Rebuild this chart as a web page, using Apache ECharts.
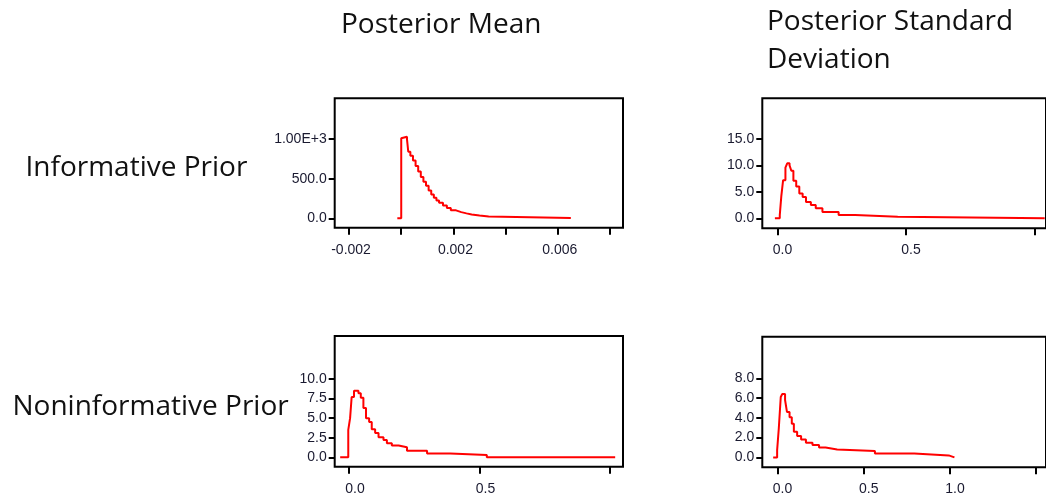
<!DOCTYPE html>
<html>
<head>
<meta charset="utf-8">
<script src="https://cdn.jsdelivr.net/npm/echarts@6/dist/echarts.min.js"></script>
<style>
  html, body { margin: 0; padding: 0; background: #fff; }
  #chart { width: 1046px; height: 498px; }
</style>
</head>
<body>
<div id="chart"></div>
<script>
// Posterior density traces (step outlines): x = left edge, y = density
const meanInfX = [-0.00015, 0.0000, 0.00005, 0.00022, 0.00027, 0.00035, 0.00045, 0.00055, 0.00065, 0.00075, 0.00085, 0.00095, 0.00105, 0.00115, 0.00125, 0.00135, 0.00145, 0.0016, 0.00175, 0.0019, 0.0021, 0.0023, 0.0025, 0.0027, 0.003, 0.00335, 0.0065];
const meanInfY = [0, 1010, 1030, 1000, 840, 790, 730, 660, 590, 520, 460, 410, 350, 300, 260, 225, 195, 160, 130, 100, 78, 62, 48, 35, 22, 5, 5];

const sdInfX = [-0.01, 0.009, 0.015, 0.022, 0.031, 0.038, 0.047, 0.054, 0.062, 0.073, 0.085, 0.098, 0.111, 0.13, 0.149, 0.175, 0.238, 0.302, 0.468, 1.04];
const sdInfY = [0, 0.6, 4.2, 7.2, 9.6, 10.4, 10.0, 9.0, 7.1, 6.0, 4.7, 4.0, 3.1, 2.5, 1.9, 1.2, 0.6, 0.3, 0.0, 0.0];

const meanNonX = [-0.034, -0.003, 0.004, 0.01, 0.019, 0.036, 0.045, 0.055, 0.065, 0.077, 0.087, 0.1, 0.113, 0.132, 0.145, 0.164, 0.19, 0.222, 0.299, 0.388, 0.528, 1.02];
const meanNonY = [0, 3.5, 5.0, 7.7, 8.5, 8.2, 7.6, 6.3, 5.0, 4.5, 3.6, 3.1, 2.55, 2.2, 1.8, 1.5, 1.28, 0.85, 0.5, 0.3, 0.0, 0.0];

const sdNonX = [-0.025, -0.002, 0.0075, 0.019, 0.028, 0.044, 0.055, 0.07, 0.083, 0.095, 0.114, 0.137, 0.165, 0.203, 0.241, 0.279, 0.346, 0.565, 0.793, 0.993, 1.026];
const sdNonY = [0, 0.74, 2.9, 6.1, 6.4, 5.8, 4.6, 4.05, 3.4, 2.6, 2.16, 1.82, 1.48, 1.25, 1.0, 0.81, 0.64, 0.4, 0.2, 0.0, 0.0];

// Axis ticks and the subset of ticks that carry labels
const meanInfTicksX = [-0.002, 0, 0.002, 0.004, 0.006, 0.008];
const meanInfLabelsX = [-0.002, 0.002, 0.006];
const meanInfTicksY = [0, 500, 1000];
const sdInfTicksX = [0, 0.5, 1.0];
const sdInfLabelsX = [0, 0.5];
const sdInfTicksY = [0, 5, 10, 15];
const meanNonTicksX = [0, 0.5, 1.0];
const meanNonLabelsX = [0, 0.5];
const meanNonTicksY = [0, 2.5, 5, 7.5, 10];
const sdNonTicksX = [0, 0.5, 1.0, 1.5];
const sdNonLabelsX = [0, 0.5, 1.0];
const sdNonTicksY = [0, 2, 4, 6, 8];

const columnTitles = ['Posterior Mean', 'Posterior Standard', 'Deviation'];
const rowTitles = ['Informative Prior', 'Noninformative Prior'];

const TICK_FONT = '"Liberation Sans", Arial, sans-serif';
const TITLE_FONT = '"Open Sans", Lato, sans-serif';
const INK = '#1a1a30';

function zip(xs, ys) { return xs.map((x, i) => [x, ys[i]]); }

const panels = [
  { grid: { left: 334.7, top: 98.3, width: 288.3, height: 129.4 },
    x: [-0.00255, 0.0085], y: [-119, 1515],
    tx: meanInfTicksX, lx: meanInfLabelsX, ty: meanInfTicksY,
    fx: v => v.toFixed(3), fy: v => v >= 1000 ? (v / 1000).toFixed(2) + 'E+3' : v.toFixed(1),
    shift: 4, data: zip(meanInfX, meanInfY) },
  { grid: { left: 762.3, top: 98.3, width: 288.3, height: 130 },
    x: [-0.059, 1.045], y: [-1.9, 22.7],
    tx: sdInfTicksX, lx: sdInfLabelsX, ty: sdInfTicksY,
    fx: v => v.toFixed(1), fy: v => v.toFixed(1),
    shift: 10, data: zip(sdInfX, sdInfY) },
  { grid: { left: 334.7, top: 336, width: 288.3, height: 130.7 },
    x: [-0.055, 1.05], y: [-1.2, 15.5],
    tx: meanNonTicksX, lx: meanNonLabelsX, ty: meanNonTicksY,
    fx: v => v.toFixed(1), fy: v => v.toFixed(1),
    shift: 12, data: zip(meanNonX, meanNonY) },
  { grid: { left: 762.3, top: 336.7, width: 288.3, height: 130.6 },
    x: [-0.088, 1.557], y: [-1.0, 12.2],
    tx: sdNonTicksX, lx: sdNonLabelsX, ty: sdNonTicksY,
    fx: v => v.toFixed(1), fy: v => v.toFixed(1),
    shift: 10, data: zip(sdNonX, sdNonY) }
];

function titleText(text, x, y) {
  return {
    type: 'text', x: x, y: y, silent: true,
    style: { text: text, font: '28px ' + TITLE_FONT, fill: '#111', verticalAlign: 'middle', align: 'left' }
  };
}

const option = {
  animation: false,
  backgroundColor: '#ffffff',
  grid: panels.map(p => Object.assign({
    show: true, borderColor: '#000', borderWidth: 2, backgroundColor: 'transparent', containLabel: false
  }, p.grid)),
  xAxis: panels.map((p, i) => ({
    type: 'value', gridIndex: i, min: p.x[0], max: p.x[1], position: 'bottom',
    splitLine: { show: false },
    axisLine: { show: false, onZero: false },
    axisTick: { show: true, inside: false, length: 7, customValues: p.tx, lineStyle: { color: '#000', width: 2 } },
    axisLabel: {
      show: true, customValues: p.lx, margin: 15, formatter: p.fx,
      fontFamily: TICK_FONT, fontSize: 14, color: INK, padding: [0, 0, 0, p.shift]
    }
  })),
  yAxis: panels.map((p, i) => ({
    type: 'value', gridIndex: i, min: p.y[0], max: p.y[1], position: 'left',
    splitLine: { show: false },
    axisLine: { show: false, onZero: false },
    axisTick: { show: true, inside: false, length: 6, customValues: p.ty, lineStyle: { color: '#000', width: 2 } },
    axisLabel: {
      show: true, customValues: p.ty, margin: 8, formatter: p.fy,
      fontFamily: TICK_FONT, fontSize: 14, color: INK
    }
  })),
  series: panels.map((p, i) => ({
    type: 'line', xAxisIndex: i, yAxisIndex: i, step: 'end',
    showSymbol: false, symbol: 'none', silent: true,
    lineStyle: { color: '#ff0000', width: 2 },
    data: p.data
  })),
  graphic: [
    titleText(columnTitles[0], 341, 25.5),
    titleText(columnTitles[1], 767, 22),
    titleText(columnTitles[2], 767, 60),
    titleText(rowTitles[0], 25.5, 168),
    titleText(rowTitles[1], 12.5, 407.5)
  ]
};

const chart = echarts.init(document.getElementById('chart'), null, { renderer: 'canvas' });
chart.setOption(option);
</script>
</body>
</html>
